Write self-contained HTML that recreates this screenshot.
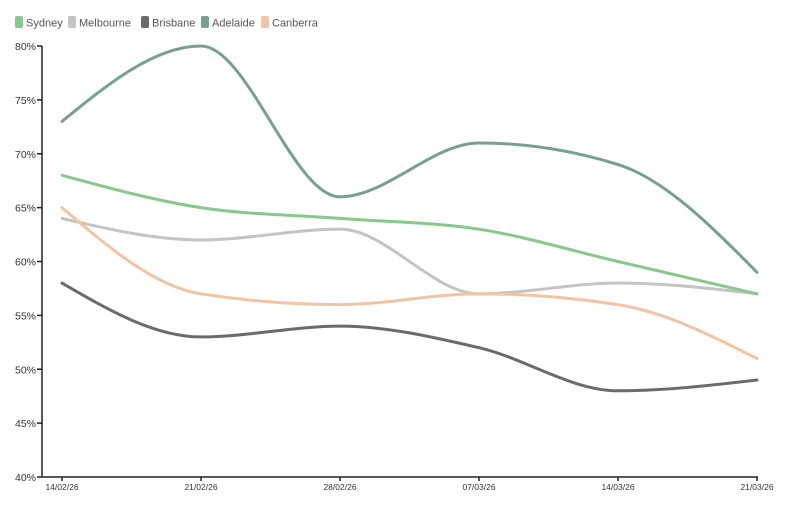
<!DOCTYPE html>
<html><head><meta charset="utf-8"><style>
body{margin:0;background:#fff;}
svg{display:block;font-family:"Liberation Sans",sans-serif;}
</style></head><body>
<svg id="c" width="786" height="510" xmlns="http://www.w3.org/2000/svg">
<g font-size="11" fill="#555">
<rect x="15" y="16" width="8" height="12" rx="2" fill="#86c98a"/><text x="26" y="26.5">Sydney</text>
<rect x="68" y="16" width="8" height="12" rx="2" fill="#c4c4c4"/><text x="79" y="26.5">Melbourne</text>
<rect x="141" y="16" width="8" height="12" rx="2" fill="#6b6b6b"/><text x="152" y="26.5">Brisbane</text>
<rect x="201" y="16" width="8" height="12" rx="2" fill="#77a090"/><text x="212" y="26.5">Adelaide</text>
<rect x="261" y="16" width="8" height="12" rx="2" fill="#f2c4a4"/><text x="272" y="26.5">Canberra</text>
</g>
<g id="ax" stroke="#222" stroke-width="1.5" fill="none">
<line x1="42" y1="46" x2="42" y2="477.5"/>
<line x1="41.5" y1="477" x2="758" y2="477"/>
</g>
<g id="lbl" font-size="10" fill="#333"></g>
<g id="ser" fill="none" stroke-width="3" stroke-linecap="round"></g>
</svg>
<script>
var ns="http://www.w3.org/2000/svg",svg=document.getElementById('c');
function Y(v){return 477-(v-40)*10.775;}
function X(i){return 62+i*139;}
var ax=document.getElementById('ax'),lbl=document.getElementById('lbl');
function el(p,t,a,txt){var e=document.createElementNS(ns,t);for(var k in a)e.setAttribute(k,a[k]);if(txt)e.textContent=txt;p.appendChild(e);}
for(var v=40;v<=80;v+=5){var y=Y(v);el(ax,'line',{x1:37,y1:y,x2:42,y2:y});el(lbl,'text',{x:36,y:y+4,'text-anchor':'end','font-size':10.5},v+'%');}
var d=['14/02/26','21/02/26','28/02/26','07/03/26','14/03/26','21/03/26'];
for(var i=0;i<6;i++){el(ax,'line',{x1:X(i),y1:477,x2:X(i),y2:481});el(lbl,'text',{x:X(i),y:490,'text-anchor':'middle','font-size':8.5},d[i]);}
var S=[["#86c98a",[68,65,64,63,60,57]],["#c4c4c4",[64,62,63,57,58,57]],["#6b6b6b",[58,53,54,52,48,49]],["#77a090",[73,80,66,71,69,59]],["#f2c4a4",[65,57,56,57,56,51]]];
function mono(xs,ys){var n=xs.length,dx=[],m=[],t=[];for(var i=0;i<n-1;i++){dx[i]=xs[i+1]-xs[i];m[i]=(ys[i+1]-ys[i])/dx[i];}
t[0]=m[0];t[n-1]=m[n-2];
for(var i=1;i<n-1;i++){if(m[i-1]*m[i]<=0)t[i]=0;else{var s=(m[i-1]*dx[i]+m[i]*dx[i-1])/(dx[i-1]+dx[i]);t[i]=(Math.sign(m[i-1])+Math.sign(m[i]))*Math.min(Math.abs(m[i-1]),Math.abs(m[i]),0.5*Math.abs(s));}}
t[0]=(3*m[0]-t[1])/2;t[n-1]=(3*m[n-2]-t[n-2])/2;
var p='M'+xs[0]+','+ys[0];for(var i=0;i<n-1;i++){var h=dx[i]/3;p+='C'+(xs[i]+h)+','+(ys[i]+h*t[i])+' '+(xs[i+1]-h)+','+(ys[i+1]-h*t[i+1])+' '+xs[i+1]+','+ys[i+1];}return p;}
var g=document.getElementById('ser');
[2,1,4,0,3].forEach(function(k){var s=S[k];var xs=[],ys=[];for(var i=0;i<6;i++){xs.push(X(i));ys.push(Y(s[1][i]));}el(g,'path',{d:mono(xs,ys),stroke:s[0]});});
</script>
</body></html>
